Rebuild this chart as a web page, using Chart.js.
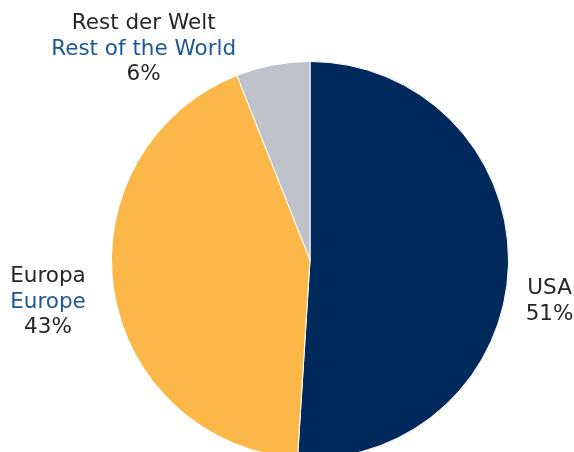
<!DOCTYPE html>
<html>
<head>
<meta charset="utf-8">
<script src="https://cdn.jsdelivr.net/npm/chart.js@4/dist/chart.umd.min.js"></script>
<style>
html,body{margin:0;padding:0;background:#fff;overflow:hidden;}
#wrap{position:relative;width:574px;height:470px;}
</style>
</head>
<body>
<div id="wrap"><canvas id="c"></canvas></div>
<script>
const categoriesDE = ["USA", "Europa", "Rest der Welt"];
const categoriesEN = ["", "Europe", "Rest of the World"];
const values = [51, 43, 6];
const colors = ["#002A5C", "#FBB848", "#BFC2CA"];

// label anchor offsets relative to pie centre, in units of radius (x) and first-line baseline (y)
const labelAnchors = [
  {fx: 1.207, fy: 0.172},
  {fx: -1.32, fy: 0.111},
  {fx: -0.838, fy: -1.162}
];

const labelPlugin = {
  id: 'sliceLabels',
  afterDraw(chart) {
    const ctx = chart.ctx;
    const meta = chart.getDatasetMeta(0);
    const ds = chart.data.datasets[0];
    const total = ds.data.reduce((a, b) => a + b, 0);
    ctx.save();
    ctx.font = '21.5px "DejaVu Sans"';
    ctx.textAlign = 'center';
    ctx.textBaseline = 'alphabetic';
    meta.data.forEach((arc, i) => {
      const r = arc.outerRadius;
      const a = labelAnchors[i];
      const x = arc.x + a.fx * r;
      let y = arc.y + a.fy * r;
      const lines = [{t: categoriesDE[i], c: '#262626'}];
      if (categoriesEN[i]) lines.push({t: categoriesEN[i], c: '#1B5796'});
      lines.push({t: Math.round(ds.data[i] / total * 100) + '%', c: '#262626'});
      lines.forEach(l => {
        ctx.fillStyle = l.c;
        ctx.fillText(l.t, x, y);
        y += 25.5;
      });
    });
    ctx.restore();
  }
};

new Chart(document.getElementById('c'), {
  type: 'pie',
  data: {
    labels: categoriesDE,
    datasets: [{
      data: values,
      backgroundColor: colors,
      borderColor: '#ffffff',
      borderWidth: 1
    }]
  },
  options: {
    responsive: true,
    maintainAspectRatio: false,
    animation: false,
    layout: {padding: {top: 61, bottom: 11, left: 111, right: 65}},
    plugins: {legend: {display: false}, tooltip: {enabled: false}}
  },
  plugins: [labelPlugin]
});
</script>
</body>
</html>
